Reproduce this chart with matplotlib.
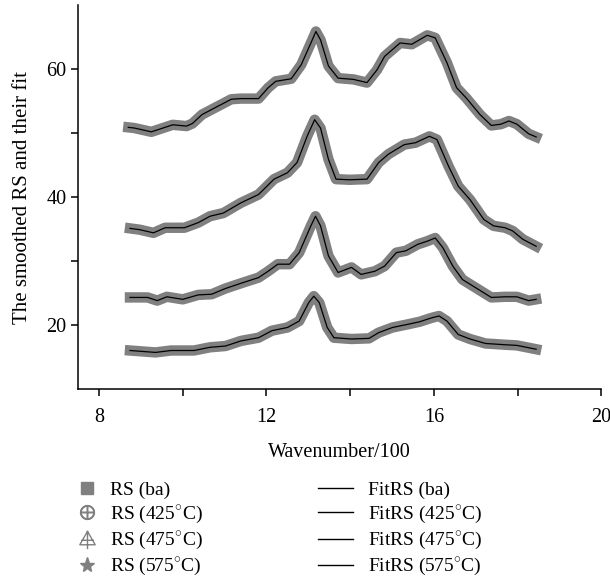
import matplotlib
matplotlib.use('Agg')
import matplotlib.pyplot as plt
import numpy as np
from matplotlib.lines import Line2D
from matplotlib.path import Path

# wavenumber/100 and smoothed RS
x_ba = [8.70, 8.84, 9.25, 9.53, 9.76, 10.09, 10.23, 10.46, 10.78, 11.16, 11.39, 11.81,
        12.04, 12.22, 12.59, 12.83, 13.06, 13.18, 13.29, 13.48, 13.71, 14.08, 14.40,
        14.64, 14.82, 15.19, 15.47, 15.84, 16.03, 16.31, 16.54, 16.77, 17.10, 17.37,
        17.60, 17.79, 17.98, 18.26, 18.44]
y_ba = [50.9, 50.8, 50.2, 50.8, 51.3, 51.1, 51.5, 52.9, 54.0, 55.3, 55.4, 55.4,
        57.1, 58.1, 58.5, 60.7, 64.1, 65.9, 64.6, 60.5, 58.6, 58.4, 57.9,
        59.9, 62.0, 64.1, 63.9, 65.3, 64.9, 61.0, 57.1, 55.5, 52.9, 51.2,
        51.4, 51.9, 51.4, 49.9, 49.4]

x_425 = [8.74, 8.97, 9.30, 9.58, 10.04, 10.37, 10.65, 10.97, 11.39, 11.81, 12.18, 12.50,
         12.73, 12.97, 13.15, 13.29, 13.48, 13.66, 13.99, 14.40, 14.68, 14.91, 15.29,
         15.56, 15.89, 16.07, 16.35, 16.58, 16.86, 17.19, 17.42, 17.70, 17.88, 18.12, 18.44]
y_425 = [35.1, 34.9, 34.4, 35.2, 35.2, 36.0, 37.0, 37.5, 39.1, 40.4, 42.8, 43.8,
         45.4, 49.5, 52.1, 50.8, 45.9, 42.8, 42.7, 42.8, 45.4, 46.7, 48.2,
         48.5, 49.5, 49.0, 44.8, 41.7, 39.6, 36.5, 35.5, 35.2, 34.7, 33.4, 32.3]

x_475 = [8.74, 9.16, 9.39, 9.62, 10.00, 10.37, 10.69, 11.02, 11.43, 11.81, 12.04, 12.27,
         12.55, 12.78, 13.06, 13.17, 13.29, 13.48, 13.71, 14.03, 14.26, 14.59, 14.82,
         15.10, 15.33, 15.61, 15.84, 16.03, 16.21, 16.45, 16.68, 17.00, 17.37, 17.70,
         17.98, 18.26, 18.44]
y_475 = [24.3, 24.3, 23.8, 24.4, 24.0, 24.7, 24.8, 25.7, 26.6, 27.4, 28.4, 29.5,
         29.5, 31.3, 35.5, 37.0, 35.5, 30.8, 28.2, 29.0, 27.9, 28.4, 29.2,
         31.3, 31.6, 32.6, 33.1, 33.6, 32.1, 29.2, 27.1, 25.8, 24.3, 24.4,
         24.4, 23.8, 24.0]

x_575 = [8.74, 9.35, 9.72, 10.27, 10.65, 11.02, 11.39, 11.81, 12.13, 12.50, 12.78, 13.01,
         13.13, 13.26, 13.45, 13.61, 14.03, 14.45, 14.68, 15.01, 15.38, 15.66, 15.94,
         16.12, 16.31, 16.58, 16.86, 17.23, 17.70, 17.98, 18.44]
y_575 = [16.0, 15.7, 16.0, 16.0, 16.5, 16.7, 17.5, 18.0, 19.1, 19.6, 20.6, 23.5,
         24.5, 23.5, 19.6, 18.0, 17.8, 17.9, 18.8, 19.6, 20.1, 20.5, 21.1,
         21.4, 20.6, 18.5, 17.8, 17.1, 16.9, 16.8, 16.2]

rs_labels = ['RS (ba)', 'RS (425$^{\\circ}$C)', 'RS (475$^{\\circ}$C)', 'RS (575$^{\\circ}$C)']
fit_labels = ['FitRS (ba)', 'FitRS (425$^{\\circ}$C)', 'FitRS (475$^{\\circ}$C)', 'FitRS (575$^{\\circ}$C)']

plt.rcParams['font.family'] = ['Liberation Serif', 'DejaVu Serif']
plt.rcParams['mathtext.fontset'] = 'custom'
plt.rcParams['mathtext.rm'] = 'Liberation Serif'

grey = '#808080'

# triangle with a cross through it
tri_plus = Path([(0, 1), (-0.95, -0.65), (0.95, -0.65), (0, 1),
                 (0, 1.1), (0, -1.2), (-0.75, -0.1), (0.75, -0.1)],
                [Path.MOVETO, Path.LINETO, Path.LINETO, Path.LINETO,
                 Path.MOVETO, Path.LINETO, Path.MOVETO, Path.LINETO])

fig = plt.figure(figsize=(6.1, 5.83), dpi=100)
ax = fig.add_axes([0.128, 0.333, 0.858, 0.658])

series = [(x_ba, y_ba), (x_425, y_425), (x_475, y_475), (x_575, y_575)]
for xs, ys in series:
    ax.plot(xs, ys, color=grey, lw=7.5, solid_capstyle='projecting', solid_joinstyle='round')
    ax.plot(xs, ys, color='black', lw=0.9, solid_joinstyle='round')

ax.set_xlim(7.5, 20)
ax.set_ylim(10, 70)
ax.set_xticks([8, 12, 16, 20])
ax.set_xticks([10, 14, 18], minor=True)
ax.set_yticks([20, 40, 60])
ax.set_yticks([30, 50], minor=True)
for s in ['top', 'right']:
    ax.spines[s].set_visible(False)
for s in ['left', 'bottom']:
    ax.spines[s].set_linewidth(1.1)
ax.tick_params(which='both', direction='out', length=5, width=1.1, labelsize=14.5)
ax.tick_params(axis='x', pad=9)
ax.set_xlabel('Wavenumber/100', fontsize=14.5, labelpad=11)
ax.set_ylabel('The smoothed RS and their fit', fontsize=15, labelpad=10)

markers = ['s', '$\\oplus$', tri_plus, '*']
rs_handles = []
for m in markers:
    if m == 's':
        h = Line2D([], [], ls='none', marker='s', ms=8, mfc=grey, mec=grey)
    elif m == '*':
        h = Line2D([], [], ls='none', marker='*', ms=11, mfc=grey, mec=grey)
    elif m == tri_plus:
        h = Line2D([], [], ls='none', marker=tri_plus, ms=14, mfc='none', mec=grey, mew=1.0)
    else:
        h = Line2D([], [], ls='none', marker=m, ms=10, mfc=grey, mec=grey)
    rs_handles.append(h)
fit_handles = [Line2D([], [], color='black', lw=1.0) for _ in fit_labels]

leg1 = fig.legend(rs_handles, rs_labels, loc='upper left', bbox_to_anchor=(0.127, 0.174),
                  frameon=False, fontsize=14, handlelength=1.0, handletextpad=0.65,
                  labelspacing=0.22, borderpad=0, borderaxespad=0)
leg2 = fig.legend(fit_handles, fit_labels, loc='upper left', bbox_to_anchor=(0.522, 0.174),
                  frameon=False, fontsize=14, handlelength=1.8, handletextpad=0.75,
                  labelspacing=0.22, borderpad=0, borderaxespad=0)

fig.savefig('out.png', dpi=100)
